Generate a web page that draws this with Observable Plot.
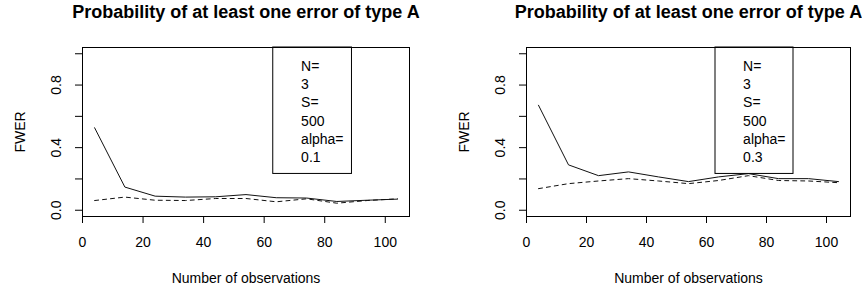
<!DOCTYPE html>
<html><head><meta charset="utf-8">
<script src="https://cdn.jsdelivr.net/npm/d3@7"></script>
<script src="https://cdn.jsdelivr.net/npm/@observablehq/plot@0.6"></script>
<style>
body{margin:0;background:#fff;}
#wrap{display:flex;width:862px;height:293px;}
#wrap svg{font-family:"Liberation Sans",Arial,sans-serif;display:block;}
</style></head><body><div id="wrap"></div>
<script>
// ---- data ----
const nObs = [4, 14, 24, 34, 44, 54, 64, 74, 84, 94, 104];
const fwerSolidAlpha01  = [0.527, 0.148, 0.090, 0.084, 0.086, 0.100, 0.080, 0.078, 0.056, 0.064, 0.071];
const fwerDashedAlpha01 = [0.062, 0.084, 0.064, 0.062, 0.075, 0.075, 0.054, 0.073, 0.045, 0.062, 0.073];
const fwerSolidAlpha03  = [0.671, 0.290, 0.221, 0.245, 0.213, 0.183, 0.213, 0.234, 0.202, 0.202, 0.183];
const fwerDashedAlpha03 = [0.138, 0.170, 0.187, 0.202, 0.187, 0.170, 0.190, 0.221, 0.190, 0.187, 0.176];
const titleText = "Probability of at least one error of type A";
const xLabel = "Number of observations";
const yLabel = "FWER";
const xTicks = [0, 20, 40, 60, 80, 100];
const yTicks = [0, 0.2, 0.4, 0.6, 0.8, 1.0];
const yTickLabels = ["0.0", "0.4", "0.8"];
const legendAlpha01 = ["N=", "3", "S=", "500", "alpha=", "0.1"];
const legendAlpha03 = ["N=", "3", "S=", "500", "alpha=", "0.3"];

const xDomain = [0, 108];
const yDomain = [-0.04, 1.04];
const legendBox = {x1: 63, x2: 89, y1: 0.232, y2: 1.04, textX: 72.2};

function panel(solid, dashed, legendLines, marginLeft, marginRight) {
  const rows = nObs.map((n, i) => ({n, s: solid[i], d: dashed[i]}));
  return Plot.plot({
    width: 431, height: 293,
    marginLeft, marginRight, marginTop: 47, marginBottom: 77,
    style: {fontSize: "14px", fontFamily: '"Liberation Sans", Arial, sans-serif', color: "#000", background: "#fff"},
    x: {domain: xDomain},
    y: {domain: yDomain},
    marks: [
      Plot.line(rows, {x: "n", y: "s", stroke: "#111", strokeWidth: 1}),
      Plot.line(rows, {x: "n", y: "d", stroke: "#111", strokeWidth: 1, strokeDasharray: "4,4"}),
      Plot.rect([legendBox], {x1: "x1", x2: "x2", y1: "y1", y2: "y2", fill: "#fff", stroke: "#000", strokeWidth: 1}),
      Plot.text([legendLines.join("\n")], {x: legendBox.textX, y: legendBox.y2, text: d => d, textAnchor: "start", lineAnchor: "top", lineHeight: 1.31, dy: 10, fontSize: 14, fill: "#000"}),
      Plot.frame({stroke: "#000"}),
      Plot.axisX({ticks: xTicks, tickSize: 7, tickPadding: 14, tickFormat: d => String(d), label: null, fontSize: 14}),
      Plot.axisY({ticks: yTicks, tickSize: 7, tickFormat: () => "", label: null}),
      Plot.text(yTickLabels, {y: d => +d, text: d => d, frameAnchor: "left", dx: -26, rotate: -90, textAnchor: "middle", lineAnchor: "middle", fontSize: 14, fill: "#000"}),
      Plot.text([yLabel], {text: d => d, frameAnchor: "left", dx: -62, rotate: -90, textAnchor: "middle", lineAnchor: "middle", fontSize: 14, fill: "#000"}),
      Plot.text([xLabel], {text: d => d, frameAnchor: "bottom", dy: 62, lineAnchor: "middle", fontSize: 14, fill: "#000"}),
      Plot.text([titleText], {text: d => d, frameAnchor: "top", dy: -29.5, lineAnchor: "bottom", fontSize: 18, fontWeight: "bold", fill: "#000"})
    ]
  });
}

const wrap = document.getElementById("wrap");
wrap.appendChild(panel(fwerSolidAlpha01, fwerDashedAlpha01, legendAlpha01, 82, 22));
wrap.appendChild(panel(fwerSolidAlpha03, fwerDashedAlpha03, legendAlpha03, 95, 12));
</script>
</body></html>
